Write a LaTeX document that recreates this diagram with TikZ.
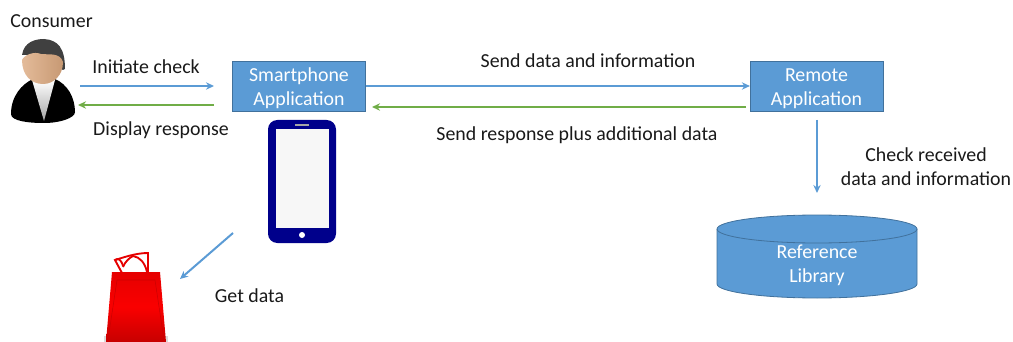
\documentclass[tikz,border=0pt]{standalone}
\usepackage{fontspec}
\setmainfont{Carlito}
\usetikzlibrary{arrows.meta,shapes.geometric}
\definecolor{bl}{HTML}{5B9BD5}
\definecolor{bledge}{HTML}{41719C}
\definecolor{gr}{HTML}{70AD47}
\definecolor{navy}{HTML}{00008B}
\definecolor{skin}{HTML}{DDAA80}
\newcommand{\fontpx}{\fontsize{14.9}{18}\selectfont}
\newcommand{\dn}{\rule{0pt}{14.2pt}}
\tikzset{
 x=0.75pt,y=-0.75pt,
 box/.style={draw=bledge,fill=bl,minimum width=99.5pt,minimum height=37.5pt,inner sep=0pt,text=white,align=center,font=\fontpx},
 lbl/.style={inner sep=0pt,align=center,text=black!90,font=\fontpx},
 ba/.style={draw=bl,line width=1.5pt,-{Stealth[length=6pt,width=5.5pt]}},
 ga/.style={draw=gr,line width=1.5pt,-{Stealth[length=6pt,width=5.5pt]}},
}
\begin{document}
\begin{tikzpicture}
\useasboundingbox (0,0) rectangle (1013,342);
\node[box] (sa) at (299,86) {\dn Smartphone\\Application};
\node[box] (ra) at (816.5,86) {\dn Remote\\Application};
% person
\coordinate (ci) at (80,86);
\coordinate (ce) at (214,86);
\coordinate (cg) at (78,105);
\path[fill=black] (11,114) .. controls (11,96) and (22,84) .. (33,79) -- (55,79) .. controls (67,84) and (75,97) .. (75,112) .. controls (75,118) and (60,123) .. (44,123) .. controls (28,123) and (11,121) .. (11,114) -- cycle;
\shade[top color=white,bottom color=black!35] (32,80) -- (55,80) -- (44,121) -- cycle;
\path[fill=black!75] (22,55) .. controls (24,42) and (35,39) .. (44,39) .. controls (58,40) and (65,48) .. (65,69) -- (63,70) -- (40,55) -- cycle;
\path[left color=skin!80!white,right color=skin!90!black,shading=axis] (22,60) .. controls (24,55) and (34,51) .. (41,54) .. controls (48,55) and (60,52) .. (63,62) .. controls (63,75) and (54,84) .. (43,84) .. controls (31,84) and (22,75) .. (22,60) -- cycle;
% phone
\path[fill=navy,rounded corners=7pt] (268,120) rectangle (336,243);
\path[fill=black!3] (276,129) rectangle (329,228);
\path[fill=white] (302,235) circle (3);
\path[draw=black!35,line width=1pt] (295,125) -- (309,125);
% bag
\path[fill=black!40,opacity=.35] (104,336) rectangle (168,342);
\path[draw=red!90!black,line width=1.4pt] (122,273) -- (115,260) .. controls (122,258) and (135,253) .. (148,253) -- (148,273);
\path[draw=red!90!black,line width=1.4pt] (115,260) .. controls (118,258) and (121,259) .. (123,266);
\path[draw=red!90!black,line width=1.4pt] (123,267) .. controls (125,262) and (129,258) .. (133,256) .. controls (140,257) and (145,263) .. (147,272);
\path[top color=red!90!black,bottom color=red!78!black,middle color=red!98!black,shading=axis] (112,272) -- (160,272) -- (166,342) -- (106,342) -- cycle;
\path[draw=red!80!black,line width=0.4pt] (108,340) -- (117,280) -- (155,280) -- (164,340);
% connectors
\draw[ba] (ci) -- (ce);
\coordinate (gs) at (214,105);
\draw[ga] (gs) -- (cg);
\draw[ba] (sa.east) -- (ra.west);
\coordinate (gr1) at (746,107);
\coordinate (gr2) at (372,107);
\draw[ga] (gr1) -- (gr2);
% cylinder
\path[fill=bl,draw=bledge,line width=0.6pt] (717,229) -- (717,284) arc[start angle=180,end angle=0,x radius=100,y radius=14] -- (917,229) arc[start angle=0,end angle=-180,x radius=100,y radius=14] -- cycle;
\path[draw=bledge,line width=0.6pt] (717,229) arc[start angle=180,end angle=0,x radius=100,y radius=14];
\node[inner sep=0pt,text=white,align=center,font=\fontpx] (rl) at (817,262.5) {\dn Reference\\Library};
\coordinate (v1) at (817,120);
\coordinate (v2) at (817,193);
\draw[ba] (v1) -- (v2);
\coordinate (d1) at (233,233);
\coordinate (d2) at (180,279);
\draw[ba] (d1) -- (d2);
% labels
\node[lbl] (l1) at (51.5,21) {Consumer};
\node[lbl] (l2) at (146,66.5) {Initiate check};
\node[lbl] (l3) at (161,130.5) {Display response};
\node[lbl] (l4) at (588,61) {Send data and information};
\node[lbl] (l5) at (577,135) {Send response plus additional data};
\node[lbl] (l6) at (926,166.5) {Check received\hspace{3pt}\\data and information};
\node[lbl] (l7) at (249.5,296) {Get data};
\end{tikzpicture}
\end{document}
